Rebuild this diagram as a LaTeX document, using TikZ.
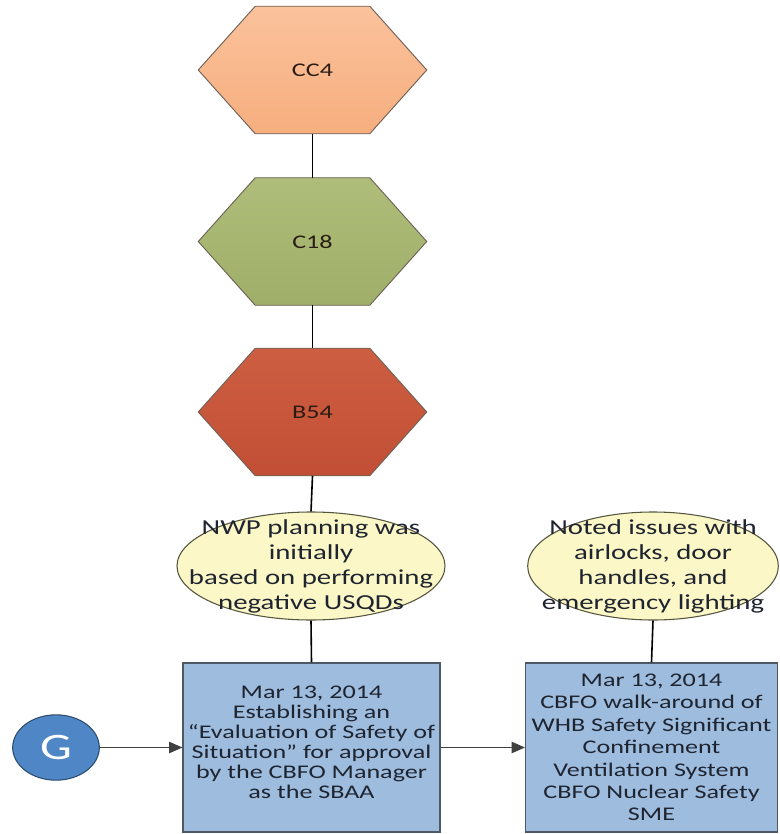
\documentclass[tikz,border=0pt]{standalone}
\usepackage{fontspec}
\setmainfont{Carlito}[FakeStretch=1.35]
\usetikzlibrary{backgrounds,arrows.meta,calc,shapes.geometric}
\definecolor{orangeT}{HTML}{FBC29C}
\definecolor{orangeB}{HTML}{F6AE7E}
\definecolor{greenT}{HTML}{AEBE7A}
\definecolor{greenB}{HTML}{9FAF69}
\definecolor{redT}{HTML}{CD5E42}
\definecolor{redB}{HTML}{C24F35}
\definecolor{hexline}{HTML}{6E6258}
\definecolor{noteFill}{HTML}{FBF7C6}
\definecolor{noteLine}{HTML}{55553F}
\definecolor{boxFill}{HTML}{9EBCDD}
\definecolor{boxLine}{HTML}{4C5866}
\definecolor{gFill}{HTML}{4F86C5}
\definecolor{gLine}{HTML}{2E4C6E}
\definecolor{txt}{HTML}{1E2430}
\definecolor{hextxt}{HTML}{2A1C14}
\definecolor{arrowGray}{HTML}{404040}
\begin{document}
\begin{tikzpicture}[x=0.75pt,y=-0.75pt,
  hexnode/.style={minimum width=171pt,minimum height=95.25pt,inner sep=0pt,
    text=hextxt,font=\fontsize{14.5}{17}\selectfont},
  note/.style={ellipse,draw=noteLine,line width=0.8pt,fill=noteFill,inner sep=0pt},
  notetext/.style={align=center,text=txt,inner sep=0pt,font=\fontsize{16}{18.75}\selectfont},
  evbox/.style={rectangle,draw=boxLine,line width=0.8pt,fill=boxFill,
    minimum height=126.75pt,inner sep=0pt},
  boxtext/.style={align=center,text=txt,inner sep=0pt},
  conn/.style={draw=black,line width=1.2pt},
  arr/.style={draw=arrowGray,line width=0.9pt,-{Triangle[length=10pt,width=8.5pt]}},
]
\useasboundingbox (0,0) rectangle (779,834);

% hexagon nodes
\node[hexnode] (cc4) at (312.5,70) {CC4};
\node[hexnode] (c18) at (312.5,241.5) {C18};
\node[hexnode] (b54) at (312.5,412) {B54};

\begin{scope}[on background layer]
\foreach \n/\ct/\cb in {cc4/orangeT/orangeB, c18/greenT/greenB, b54/redT/redB}{
  \path[draw=hexline,line width=0.7pt,top color=\ct,bottom color=\cb]
    (\n.west) -- ($(\n.north west)+(57,0)$) -- ($(\n.north east)+(-57,0)$)
    -- (\n.east) -- ($(\n.south east)+(-57,0)$) -- ($(\n.south west)+(57,0)$) -- cycle;
}
\end{scope}

% notes
\node[note,minimum width=201pt,minimum height=81pt] (n1) at (311,566) {};
\node[notetext] (n1t) at (n1.center) {NWP planning was\\initially\\based on performing\\negative USQDs};
\node[note,minimum width=188pt,minimum height=81pt] (n2) at (653,566) {};
\node[notetext] (n2t) at (n2.center) {Noted issues with\\airlocks, door\\handles, and\\emergency lighting};

% boxes
\node[evbox,minimum width=192.75pt] (b1) at (311.5,747.5) {};
\node[boxtext,font=\fontsize{14.5}{15}\selectfont] (b1t) at ($(b1.center)+(0,-5)$)
  {Mar 13, 2014\\Establishing an\\“Evaluation of Safety of\\Situation” for approval\\by the CBFO Manager\\as the SBAA};
\node[evbox,minimum width=189pt] (b2) at (651.5,747.5) {};
\node[boxtext,font=\fontsize{14.5}{16.8}\selectfont] (b2t) at ($(b2.center)+(0,0)$)
  {Mar 13, 2014\\CBFO walk-around of\\WHB Safety Significant\\Confinement\\Ventilation System\\CBFO Nuclear Safety\\SME};

% G connector
\node[ellipse,draw=gLine,line width=0.8pt,fill=gFill,minimum width=65pt,minimum height=49pt,
  inner sep=0pt,text=white,font=\fontsize{28}{30}\selectfont] (g) at (56,747.5) {G};

% connectors
\draw[conn] (cc4.south) -- (c18.north);
\draw[conn] (c18.south) -- (b54.north);
\draw[conn] (b54.south) -- (n1.north);
\draw[conn] (n1.south) -- (b1.north);
\draw[conn] (n2.south) -- (b2.north);
\draw[arr] (g) -- (b1);
\draw[arr] (b1) -- (b2);
\end{tikzpicture}
\end{document}
